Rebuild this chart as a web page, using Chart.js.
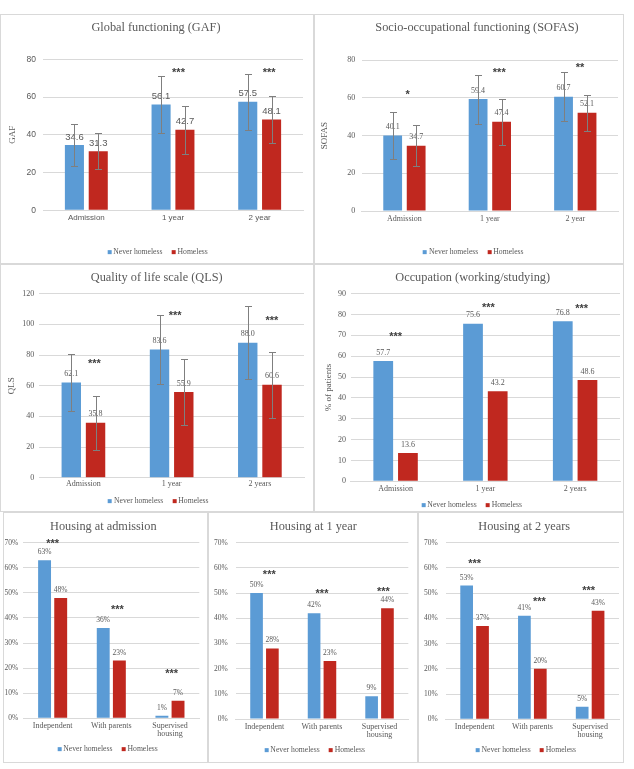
<!DOCTYPE html>
<html><head><meta charset="utf-8">
<script src="https://cdn.jsdelivr.net/npm/chart.js@4.4.0/dist/chart.umd.min.js"></script>
<style>
body{margin:0;background:#fff;width:634px;height:769px;position:relative;overflow:hidden;}
canvas{position:absolute;}
.frame{position:absolute;border:1px solid #d9d9d9;box-sizing:border-box;pointer-events:none;}
.ttl{position:absolute;font-family:"Liberation Serif",serif;font-size:12.3px;color:#595959;white-space:nowrap;transform:translate(-50%,-50%);line-height:1;}
.leg{position:absolute;font-family:"Liberation Serif",serif;font-size:7.7px;color:#595959;white-space:nowrap;transform:translate(-50%,-50%);display:flex;align-items:center;line-height:1;}
.leg i{display:inline-block;width:4px;height:4px;margin-right:2px;}
.leg span{margin-right:9px;display:flex;align-items:center;}
.leg span:last-child{margin-right:0;}
</style></head><body>
<script>
// ---------- DATA ----------
const timeCats = ['Admission', '1 year', '2 year'];
const timeCatsYears = ['Admission', '1 year', '2 years'];
const housingCats = ['Independent', 'With parents', ['Supervised', 'housing']];
const seriesNames = ['Never homeless', 'Homeless'];

const gafNever = [34.6, 56.1, 57.5];
const gafHomeless = [31.3, 42.7, 48.1];
const gafNeverSD = [11.1, 15.2, 14.8];
const gafHomelessSD = [9.4, 12.8, 12.5];
const gafSig = ['', '***', '***'];
const gafSigY = [0, 73.8, 73.8];

const sofasNever = [40.1, 59.4, 60.7];
const sofasHomeless = [34.7, 47.4, 52.1];
const sofasNeverSD = [12.3, 13.0, 12.9];
const sofasHomelessSD = [10.8, 12.3, 9.7];
const sofasSig = ['*', '***', '**'];
const sofasSigY = [62.5, 74.3, 77.2];

const qlsNever = [62.1, 83.6, 88.0];
const qlsHomeless = [35.8, 55.9, 60.6];
const qlsNeverSD = [18.7, 22.8, 23.8];
const qlsHomelessSD = [17.7, 21.6, 21.4];
const qlsSig = ['***', '***', '***'];
const qlsSigY = [75.4, 106.5, 103.3];

const occNever = [57.7, 75.6, 76.8];
const occHomeless = [13.6, 43.2, 48.6];
const occSig = ['***', '***', '***'];
const occSigY = [70, 84.3, 83.5];

const houseAdmNever = [63, 36, 1];
const houseAdmHomeless = [48, 23, 7];
const houseAdmSig = ['***', '***', '***'];
const houseAdmSigY = [70.4, 43.8, 18.6];

const house1yNever = [50, 42, 9];
const house1yHomeless = [28, 23, 44];
const house1ySig = ['***', '***', '***'];
const house1ySigY = [58, 50.5, 51.2];

const house2yNever = [53, 41, 5];
const house2yHomeless = [37, 20, 43];
const house2ySig = ['***', '***', '***'];
const house2ySigY = [62.4, 47.3, 51.5];

// ---------- STYLE ----------
const BLUE = '#5b9bd5', RED = '#c0281f', GRAY = '#595959', GRID = '#d9d9d9';
const SERIF = '"Liberation Serif", serif', SANS = '"Liberation Sans", sans-serif';

const extrasPlugin = {
  id: 'extras',
  afterDatasetsDraw(chart, args, o) {
    const ctx = chart.ctx, ys = chart.scales.y, xs = chart.scales.x;
    ctx.save();
    // data labels
    ctx.fillStyle = GRAY;
    ctx.font = o.labelFont;
    ctx.textAlign = 'center';
    ctx.textBaseline = 'middle';
    chart.data.datasets.forEach((ds, i) => {
      chart.getDatasetMeta(i).data.forEach((el, j) => {
        const v = ds.data[j];
        ctx.fillText(o.fmt(v), el.x, el.y - o.labelOffset);
      });
    });
    // error bars
    if (o.sd) {
      ctx.strokeStyle = '#7f7f7f';
      ctx.lineWidth = 1;
      chart.data.datasets.forEach((ds, i) => {
        chart.getDatasetMeta(i).data.forEach((el, j) => {
          const v = ds.data[j], s = o.sd[i][j];
          const yt = Math.round(ys.getPixelForValue(v + s)) + 0.5;
          const yb = Math.round(ys.getPixelForValue(v - s)) + 0.5;
          const x = Math.round(el.x) + 0.5;
          ctx.beginPath();
          ctx.moveTo(x, yt); ctx.lineTo(x, yb);
          ctx.moveTo(x - 3.5, yt); ctx.lineTo(x + 3.5, yt);
          ctx.moveTo(x - 3.5, yb); ctx.lineTo(x + 3.5, yb);
          ctx.stroke();
        });
      });
    }
    // significance stars
    ctx.fillStyle = '#404040';
    ctx.font = 'bold 11px ' + SANS;
    o.sig.forEach((t, j) => {
      if (!t) return;
      ctx.fillText(t, xs.getPixelForValue(j) + o.sigDx[j], ys.getPixelForValue(o.sigY[j]) + 2);
    });
    ctx.restore();
  }
};

function makePanel(L, D) {
  const cv = document.createElement('canvas');
  cv.width = L.w; cv.height = L.h;
  cv.style.left = L.x + 'px'; cv.style.top = L.y + 'px';
  cv.style.width = L.w + 'px'; cv.style.height = L.h + 'px';
  document.body.appendChild(cv);
  const fr = document.createElement('div');
  fr.className = 'frame';
  Object.assign(fr.style, {left: L.x + 'px', top: L.y + 'px', width: L.w + 'px', height: L.h + 'px'});
  document.body.appendChild(fr);
  const t = document.createElement('div');
  t.className = 'ttl'; t.textContent = D.title;
  t.style.left = L.tx + 'px'; t.style.top = L.ty + 'px';
  document.body.appendChild(t);
  const lg = document.createElement('div');
  lg.className = 'leg';
  lg.style.left = L.lx + 'px'; lg.style.top = L.ly + 'px';
  seriesNames.forEach((n, i) => {
    const sp = document.createElement('span');
    const m = document.createElement('i');
    m.style.background = i ? RED : BLUE;
    sp.appendChild(m);
    sp.appendChild(document.createTextNode(n));
    lg.appendChild(sp);
  });
  document.body.appendChild(lg);

  new Chart(cv, {
    type: 'bar',
    data: {
      labels: D.labels,
      datasets: [
        {label: seriesNames[0], data: D.a, backgroundColor: BLUE},
        {label: seriesNames[1], data: D.b, backgroundColor: RED}
      ]
    },
    options: {
      responsive: false, animation: false, devicePixelRatio: 1,
      categoryPercentage: 0.55, barPercentage: 0.8,
      layout: {padding: {top: L.top, right: L.w - L.right, left: 0, bottom: 0}},
      plugins: {
        legend: {display: false}, title: {display: false}, tooltip: {enabled: false},
        extras: {sd: D.sd, sig: D.sig, sigY: D.sigY, sigDx: L.sigDx, fmt: D.fmt,
                 labelFont: L.labelFont, labelOffset: L.labelOffset}
      },
      scales: {
        x: {
          grid: {display: false, drawTicks: false},
          border: {display: true, color: GRID},
          ticks: {font: {family: L.xFont, size: 8, lineHeight: 1.05}, color: GRAY, padding: L.xPad, autoSkip: false, maxRotation: 0},
          afterFit(s) { s.height = L.h - L.bottom; }
        },
        y: {
          min: 0, max: D.max,
          ticks: {stepSize: D.step, font: {family: L.yFont, size: L.yFontSize}, color: GRAY, padding: L.yPad, callback: D.tick},
          grid: {color: GRID, drawTicks: false},
          border: {display: false},
          title: {display: !!D.yTitle, text: D.yTitle || '', font: {family: SERIF, size: 9}, color: GRAY, padding: {top: L.ytPad, bottom: 0}},
          afterFit(s) { s.width = L.left; }
        }
      }
    },
    plugins: [extrasPlugin]
  });
}

const f1 = v => v.toFixed(1);
const fp = v => v + '%';
const tp = v => v + '%';

makePanel(
  {x: 0, y: 14, w: 314, h: 250, left: 43, right: 303, top: 45.3, bottom: 196.3, tx: 156, ty: 27, lx: 157.5, ly: 252,
   xFont: SANS, yFont: SANS, yFontSize: 8.5, xPad: 3, yPad: 7, ytPad: 7.5, labelFont: '9.5px ' + SANS, labelOffset: 8, sigDx: [0, 5.5, 9.5]},
  {title: 'Global functioning (GAF)', labels: timeCats, a: gafNever, b: gafHomeless, sd: [gafNeverSD, gafHomelessSD],
   sig: gafSig, sigY: gafSigY, fmt: f1, max: 80, step: 20, yTitle: 'GAF'});

makePanel(
  {x: 314, y: 14, w: 310, h: 250, left: 47.7, right: 304, top: 46.3, bottom: 197, tx: 477, ty: 27, lx: 473.3, ly: 251.7,
   xFont: SERIF, yFont: SERIF, yFontSize: 8, xPad: 4, yPad: 6.5, ytPad: 5.5, labelFont: '8px ' + SERIF, labelOffset: 8.5, sigDx: [3.3, 9.4, 4.8]},
  {title: 'Socio-occupational functioning (SOFAS)', labels: timeCats, a: sofasNever, b: sofasHomeless, sd: [sofasNeverSD, sofasHomelessSD],
   sig: sofasSig, sigY: sofasSigY, fmt: f1, max: 80, step: 20, yTitle: 'SOFAS'});

makePanel(
  {x: 0, y: 264, w: 314, h: 248, left: 39.3, right: 304, top: 29.7, bottom: 213.7, tx: 156.7, ty: 277, lx: 158.3, ly: 501,
   xFont: SERIF, yFont: SERIF, yFontSize: 8, xPad: 2.5, yPad: 5, ytPad: 6.5, labelFont: '8px ' + SERIF, labelOffset: 8.5, sigDx: [11, 3.5, 12]},
  {title: 'Quality of life scale (QLS)', labels: timeCatsYears, a: qlsNever, b: qlsHomeless, sd: [qlsNeverSD, qlsHomelessSD],
   sig: qlsSig, sigY: qlsSigY, fmt: f1, max: 120, step: 20, yTitle: 'QLS'});

makePanel(
  {x: 314, y: 264, w: 310, h: 248, left: 36.7, right: 306, top: 29.7, bottom: 217.3, tx: 472.7, ty: 277, lx: 471.7, ly: 504.7,
   xFont: SERIF, yFont: SERIF, yFontSize: 8, xPad: 3.5, yPad: 4.7, ytPad: 9.5, labelFont: '8px ' + SERIF, labelOffset: 8.5, sigDx: [0, 3, 6.5]},
  {title: 'Occupation (working/studying)', labels: timeCatsYears, a: occNever, b: occHomeless, sd: null,
   sig: occSig, sigY: occSigY, fmt: f1, max: 90, step: 10, yTitle: '% of patients'});

makePanel(
  {x: 3, y: 512, w: 205, h: 251, left: 20.3, right: 196.3, top: 30.7, bottom: 206.3, tx: 103.3, ty: 526, lx: 107.5, ly: 749.3,
   xFont: SERIF, yFont: SERIF, yFontSize: 7.5, xPad: 3, yPad: 5, ytPad: 0, labelFont: '7.5px ' + SERIF, labelOffset: 8, sigDx: [0, 6, 1.7]},
  {title: 'Housing at admission', labels: housingCats, a: houseAdmNever, b: houseAdmHomeless, sd: null,
   sig: houseAdmSig, sigY: houseAdmSigY, fmt: fp, max: 70, step: 10, tick: tp});

makePanel(
  {x: 208, y: 512, w: 210, h: 251, left: 27.7, right: 200.3, top: 30.7, bottom: 207, tx: 313.3, ty: 526, lx: 314.7, ly: 750,
   xFont: SERIF, yFont: SERIF, yFontSize: 7.5, xPad: 3.5, yPad: 8, ytPad: 0, labelFont: '7.5px ' + SERIF, labelOffset: 8, sigDx: [4.8, 0, 3.8]},
  {title: 'Housing at 1 year', labels: housingCats, a: house1yNever, b: house1yHomeless, sd: null,
   sig: house1ySig, sigY: house1ySigY, fmt: fp, max: 70, step: 10, tick: tp});

makePanel(
  {x: 418, y: 512, w: 206, h: 251, left: 27.7, right: 201, top: 30.7, bottom: 207.3, tx: 524.2, ty: 526, lx: 525.8, ly: 750,
   xFont: SERIF, yFont: SERIF, yFontSize: 7.5, xPad: 3.5, yPad: 8, ytPad: 0, labelFont: '7.5px ' + SERIF, labelOffset: 8, sigDx: [0, 7, -1.4]},
  {title: 'Housing at 2 years', labels: housingCats, a: house2yNever, b: house2yHomeless, sd: null,
   sig: house2ySig, sigY: house2ySigY, fmt: fp, max: 70, step: 10, tick: tp});
</script>
</body></html>
